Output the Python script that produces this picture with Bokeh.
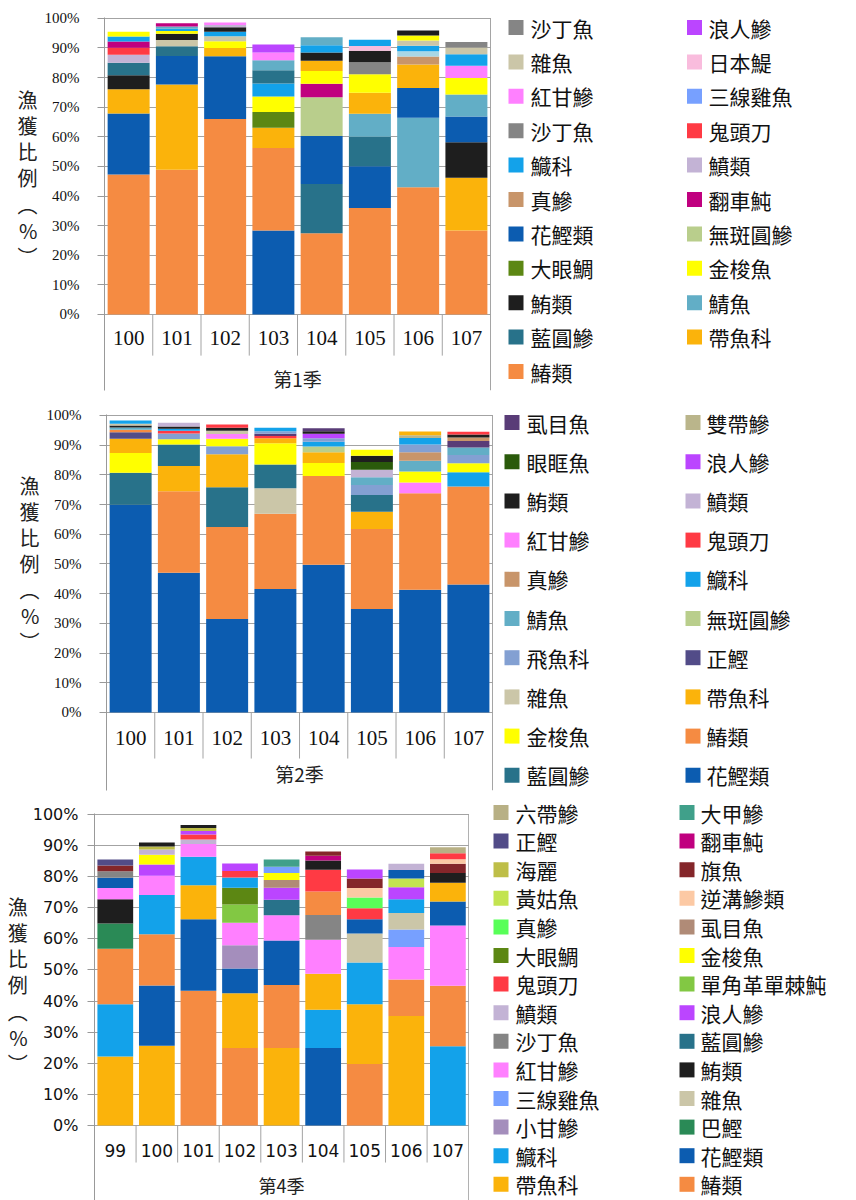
from bokeh.plotting import figure
from bokeh.layouts import column, row
from bokeh.models import Range1d, FixedTicker, PrintfTickFormatter, ColumnDataSource
from bokeh.core.properties import value
from bokeh.embed import file_html
from bokeh.resources import INLINE

CJK = "Noto Sans CJK TC"

# ---------------- data (bottom -> top for each bar) ----------------
s1_group = "第1季"
s1_years = ["100", "101", "102", "103", "104", "105", "106", "107"]
s1_100 = [("鰆類", 47.3), ("花鰹類", 20.6), ("帶魚科", 8.2), ("鮪類", 4.7), ("藍圓鰺", 4.2), ("鱝類", 2.7), ("鬼頭刀", 2.4), ("翻車魨", 2.1), ("鱵科", 1.7), ("金梭魚", 1.6)]
s1_101 = [("鰆類", 48.9), ("帶魚科", 28.8), ("花鰹類", 9.6), ("藍圓鰺", 3.3), ("雜魚", 2.1), ("鮪類", 2.1), ("金梭魚", 0.9), ("鱵科", 0.8), ("鯖魚", 0.8), ("翻車魨", 1.1)]
s1_102 = [("鰆類", 66.0), ("花鰹類", 21.2), ("帶魚科", 2.8), ("金梭魚", 2.3), ("雜魚", 1.7), ("鱵科", 1.5), ("鮪類", 1.5), ("鱝類", 0.8), ("紅甘鰺", 0.8)]
s1_103 = [("花鰹類", 28.4), ("鰆類", 27.8), ("帶魚科", 6.9), ("大眼鯛", 5.3), ("金梭魚", 5.2), ("鱵科", 4.4), ("藍圓鰺", 4.5), ("鯖魚", 3.4), ("紅甘鰺", 2.6), ("浪人鰺", 2.7)]
s1_104 = [("鰆類", 27.4), ("藍圓鰺", 16.7), ("花鰹類", 16.2), ("無斑圓鰺", 13.1), ("翻車魨", 4.5), ("金梭魚", 4.3), ("帶魚科", 3.5), ("鮪類", 2.8), ("鱵科", 2.4), ("鯖魚", 2.7)]
s1_105 = [("鰆類", 36.0), ("花鰹類", 14.1), ("藍圓鰺", 9.9), ("鯖魚", 7.8), ("帶魚科", 7.1), ("金梭魚", 6.2), ("沙丁魚", 4.1), ("鮪類", 3.9), ("日本鯷", 1.6), ("鱵科", 2.1)]
s1_106 = [("鰆類", 43.0), ("鯖魚", 23.4), ("花鰹類", 10.1), ("帶魚科", 7.9), ("真鰺", 2.7), ("其他", 1.8), ("鱵科", 1.9), ("雜魚", 1.7), ("金梭魚", 1.7), ("鮪類", 1.7)]
s1_107 = [("鰆類", 28.4), ("帶魚科", 17.8), ("鮪類", 12.0), ("花鰹類", 8.7), ("鯖魚", 7.4), ("金梭魚", 5.6), ("紅甘鰺", 4.1), ("鱵科", 3.9), ("雜魚", 2.3), ("沙丁魚", 1.8)]
s1_bars = [s1_100, s1_101, s1_102, s1_103, s1_104, s1_105, s1_106, s1_107]
s1_legend = ["沙丁魚", "浪人鰺", "雜魚", "日本鯷", "紅甘鰺", "三線雞魚", "沙丁魚", "鬼頭刀",
             "鱵科", "鱝類", "真鰺", "翻車魨", "花鰹類", "無斑圓鰺", "大眼鯛", "金梭魚",
             "鮪類", "鯖魚", "藍圓鰺", "帶魚科", "鰆類"]

s2_group = "第2季"
s2_years = ["100", "101", "102", "103", "104", "105", "106", "107"]
s2_100 = [("花鰹類", 69.9), ("藍圓鰺", 10.8), ("金梭魚", 6.6), ("帶魚科", 4.8), ("正鰹", 2.2), ("鰆類", 0.9), ("鯖魚", 0.7), ("鮪類", 0.7), ("雜魚", 0.6), ("鱵科", 1.1)]
s2_101 = [("花鰹類", 47.0), ("鰆類", 27.5), ("帶魚科", 8.5), ("藍圓鰺", 7.2), ("金梭魚", 1.8), ("飛魚科", 1.9), ("鬼頭刀", 0.9), ("鱵科", 0.7), ("鮪類", 0.8), ("鱝類", 1.2)]
s2_102 = [("花鰹類", 31.5), ("鰆類", 30.9), ("藍圓鰺", 13.4), ("帶魚科", 11.1), ("飛魚科", 2.7), ("金梭魚", 2.5), ("紅甘鰺", 1.6), ("雜魚", 1.1), ("鮪類", 1.0), ("鬼頭刀", 1.1)]
s2_103 = [("花鰹類", 41.6), ("鰆類", 25.3), ("雜魚", 8.6), ("藍圓鰺", 8.0), ("金梭魚", 7.1), ("帶魚科", 1.7), ("鬼頭刀", 0.8), ("虱目魚", 0.7), ("飛魚科", 0.9), ("鱵科", 1.1)]
s2_104 = [("花鰹類", 49.7), ("鰆類", 29.9), ("金梭魚", 4.4), ("帶魚科", 3.6), ("無斑圓鰺", 1.9), ("鱵科", 1.6), ("飛魚科", 1.2), ("浪人鰺", 1.5), ("鮪類", 0.9), ("虱目魚", 1.0)]
s2_105 = [("花鰹類", 34.8), ("鰆類", 27.0), ("帶魚科", 5.8), ("藍圓鰺", 5.6), ("飛魚科", 3.4), ("鯖魚", 2.6), ("鱝類", 2.5), ("眼眶魚", 2.6), ("鮪類", 2.1), ("金梭魚", 2.0)]
s2_106 = [("花鰹類", 41.3), ("鰆類", 32.5), ("紅甘鰺", 3.6), ("金梭魚", 3.7), ("鯖魚", 3.6), ("真鰺", 2.9), ("飛魚科", 2.6), ("鱵科", 2.2), ("雙帶鰺", 0.9), ("帶魚科", 1.3)]
s2_107 = [("花鰹類", 43.1), ("鰆類", 33.0), ("鱵科", 4.8), ("金梭魚", 3.0), ("飛魚科", 2.8), ("鯖魚", 2.5), ("虱目魚", 2.2), ("真鰺", 1.2), ("鮪類", 1.0), ("鬼頭刀", 0.9)]
s2_bars = [s2_100, s2_101, s2_102, s2_103, s2_104, s2_105, s2_106, s2_107]
s2_legend = ["虱目魚", "雙帶鰺", "眼眶魚", "浪人鰺", "鮪類", "鱝類", "紅甘鰺", "鬼頭刀",
             "真鰺", "鱵科", "鯖魚", "無斑圓鰺", "飛魚科", "正鰹", "雜魚", "帶魚科",
             "金梭魚", "鰆類", "藍圓鰺", "花鰹類"]

s3_group = "第4季"
s3_years = ["99", "100", "101", "102", "103", "104", "105", "106", "107"]
s3_99 = [("帶魚科", 22.2), ("鱵科", 16.8), ("鰆類", 17.8), ("巴鰹", 8.1), ("鮪類", 7.8), ("紅甘鰺", 3.6), ("花鰹類", 3.3), ("沙丁魚", 2.1), ("旗魚", 1.9), ("正鰹", 1.9)]
s3_100 = [("帶魚科", 25.6), ("花鰹類", 19.4), ("鰆類", 16.5), ("鱵科", 12.6), ("紅甘鰺", 6.2), ("浪人鰺", 3.6), ("金梭魚", 3.1), ("鱝類", 1.7), ("海麗", 1.0), ("鮪類", 1.3)]
s3_101 = [("鰆類", 43.3), ("花鰹類", 23.0), ("帶魚科", 10.9), ("鱵科", 9.2), ("紅甘鰺", 4.1), ("鱝類", 1.4), ("鬼頭刀", 1.6), ("浪人鰺", 1.2), ("海麗", 0.9), ("鮪類", 1.0)]
s3_102 = [("鰆類", 24.9), ("帶魚科", 17.6), ("花鰹類", 8.0), ("小甘鰺", 7.4), ("紅甘鰺", 7.3), ("單角革單棘魨", 5.8), ("大眼鯛", 5.4), ("鱵科", 3.3), ("鬼頭刀", 2.1), ("浪人鰺", 2.4)]
s3_103 = [("帶魚科", 24.9), ("鰆類", 20.3), ("花鰹類", 14.3), ("紅甘鰺", 8.1), ("藍圓鰺", 5.0), ("浪人鰺", 3.8), ("虱目魚", 2.5), ("金梭魚", 2.3), ("三線雞魚", 2.0), ("大甲鰺", 2.3)]
s3_104 = [("花鰹類", 24.9), ("鱵科", 12.3), ("帶魚科", 11.6), ("紅甘鰺", 10.9), ("沙丁魚", 8.0), ("鰆類", 7.5), ("鬼頭刀", 7.0), ("鮪類", 3.0), ("翻車魨", 1.5), ("旗魚", 1.4)]
s3_105 = [("鰆類", 19.8), ("帶魚科", 19.2), ("鱵科", 13.4), ("雜魚", 9.3), ("花鰹類", 4.6), ("鬼頭刀", 3.5), ("真鰺", 3.5), ("逆溝鰺類", 3.0), ("旗魚", 3.1), ("浪人鰺", 2.9)]
s3_106 = [("帶魚科", 35.2), ("鰆類", 11.7), ("紅甘鰺", 10.5), ("三線雞魚", 5.6), ("雜魚", 5.3), ("鱵科", 4.4), ("浪人鰺", 3.9), ("黃姑魚", 2.8), ("花鰹類", 2.7), ("鱝類", 2.0)]
s3_107 = [("鱵科", 25.5), ("鰆類", 19.4), ("紅甘鰺", 19.4), ("花鰹類", 7.7), ("帶魚科", 6.0), ("鮪類", 3.2), ("旗魚", 2.9), ("逆溝鰺類", 1.5), ("鬼頭刀", 1.9), ("六帶鰺", 1.9)]
s3_bars = [s3_99, s3_100, s3_101, s3_102, s3_103, s3_104, s3_105, s3_106, s3_107]
s3_legend = ["六帶鰺", "大甲鰺", "正鰹", "翻車魨", "海麗", "旗魚", "黃姑魚", "逆溝鰺類",
             "真鰺", "虱目魚", "大眼鯛", "金梭魚", "鬼頭刀", "單角革單棘魨", "鱝類", "浪人鰺",
             "沙丁魚", "藍圓鰺", "紅甘鰺", "鮪類", "三線雞魚", "雜魚", "小甘鰺", "巴鰹",
             "鱵科", "花鰹類", "帶魚科", "鰆類"]

# ---------------- colours ----------------
base_colors = {
    "鰆類": "#F58B42", "花鰹類": "#0C5CB0", "帶魚科": "#FBB30B", "鮪類": "#1E1E1E",
    "藍圓鰺": "#28728A", "鯖魚": "#62AEC6", "金梭魚": "#FFFF00", "大眼鯛": "#5C8713",
    "無斑圓鰺": "#B9CE8C", "翻車魨": "#C0007F", "鱝類": "#C3B3D5", "鱵科": "#13A2EA",
    "鬼頭刀": "#FF3A44", "沙丁魚": "#858585", "三線雞魚": "#77A0FF", "紅甘鰺": "#FF80FF",
    "日本鯷": "#F9BCDD", "雜魚": "#CBC6A8", "浪人鰺": "#BB45FF", "真鰺": "#C8956A",
    "虱目魚": "#593C77", "眼眶魚": "#2A5A0B", "雙帶鰺": "#BAB58B", "飛魚科": "#83A0D2",
    "正鰹": "#524C88", "六帶鰺": "#B8B085", "大甲鰺": "#40A08A", "海麗": "#BEBE48",
    "旗魚": "#84262A", "黃姑魚": "#C3E450", "逆溝鰺類": "#FCC9A4", "單角革單棘魨": "#82C843",
    "小甘鰺": "#A48EBC", "巴鰹": "#2A8A56", "其他": "#A8D7E5",
}
s1_colors = dict(base_colors)
s2_colors = dict(base_colors)
s3_colors = dict(base_colors, **{"真鰺": "#58FF58", "虱目魚": "#B08B77"})


def chart(years, bars, colors, title_pad, group, W, H, left, top, bottom, ystart, yend,
          sep_y, lab_y, grp_y, tick_font, tick_size, tick_standoff, cat_font, cat_size,
          title_standoff, bar_w, grp_size):
    n = len(years)
    p = figure(width=W, height=H, x_range=Range1d(0, n + 0.02), y_range=Range1d(ystart, yend),
               output_backend="svg", toolbar_location=None, x_axis_location=None, title=None,
               min_border_left=left, min_border_right=0, min_border_top=top,
               min_border_bottom=bottom, background_fill_color="white",
               border_fill_color="white", outline_line_color=None)
    ticks = list(range(0, 101, 10))
    p.xgrid.visible = False
    p.ygrid.ticker = FixedTicker(ticks=ticks)
    p.ygrid.grid_line_color = "#A3A3A3"
    ax = p.yaxis[0]
    ax.bounds = (ystart, 100.3)
    ax.ticker = FixedTicker(ticks=ticks)
    ax.formatter = PrintfTickFormatter(format="%d%%")
    ax.major_tick_out = 7
    ax.major_tick_in = 0
    ax.minor_tick_line_color = None
    ax.axis_line_color = "#999999"
    ax.major_tick_line_color = "#999999"
    ax.major_label_text_font = tick_font
    ax.major_label_text_font_size = tick_size
    ax.major_label_text_color = "#111111"
    ax.major_label_standoff = tick_standoff
    ax.axis_label = "\n".join(list("漁獲比例") + ["︵", "%", "︶"] + ["\u3000"] * title_pad)
    ax.axis_label_orientation = "horizontal"
    ax.axis_label_text_font = CJK
    ax.axis_label_text_font_size = "20px"
    ax.axis_label_text_font_style = "normal"
    ax.axis_label_text_color = "#222222"
    ax.axis_label_text_line_height = 0.9
    ax.axis_label_standoff = title_standoff

    xs, bots, tops, cols = [], [], [], []
    for i, segs in enumerate(bars):
        acc = 0.0
        for name, v in segs:
            xs.append(i + 0.5)
            bots.append(acc)
            tops.append(acc + v)
            cols.append(colors[name])
            acc += v
    src = ColumnDataSource(dict(x=xs, bottom=bots, top=tops, color=cols))
    p.vbar(x="x", width=bar_w, bottom="bottom", top="top", fill_color="color",
           line_color=None, source=src)

    bounds = list(range(1, n))
    p.segment(x0=bounds, y0=[0] * len(bounds), x1=bounds, y1=[sep_y] * len(bounds),
              line_color="#A3A3A3", line_width=1)
    # right-hand frame line of the chart/category table
    p.segment(x0=[n], y0=[ystart], x1=[n], y1=[100], line_color="#A3A3A3", line_width=1)

    p.text(x=[i + 0.5 for i in range(n)], y=[lab_y] * n, text=years, text_align="center",
           text_baseline="middle", text_font=value(cat_font), text_font_size=cat_size,
           text_color="#111111")
    p.text(x=[n / 2], y=[grp_y], text=[group], text_align="center", text_baseline="middle",
           text_font=value(CJK), text_font_size=grp_size, text_color="#222222")
    return p


def legend(names, colors, W, H, top, bottom, gx, tx, y0, pitch):
    # y data units = pixels from the top of the figure (frame aligned with the chart frame)
    p = figure(width=W, height=H, x_range=Range1d(0, W), y_range=Range1d(H - bottom, top),
               title=None, output_backend="svg", toolbar_location=None, x_axis_location=None,
               y_axis_location=None, min_border_left=0, min_border_right=0,
               min_border_top=top, min_border_bottom=bottom, outline_line_color=None,
               background_fill_color="white", border_fill_color="white")
    p.grid.visible = False
    gxs = [gx[k % 2] for k in range(len(names))]
    txs = [tx[k % 2] for k in range(len(names))]
    ys = [y0 + pitch * (k // 2) for k in range(len(names))]
    p.rect(x=gxs, y=ys, width=15, height=15, width_units="screen", height_units="screen",
           fill_color=[colors[nm] for nm in names], line_color=None)
    p.text(x=txs, y=ys, text=names, text_align="left", text_baseline="middle",
           text_font=value(CJK), text_font_size="21px", text_color="#111111")
    return p


c1 = chart(s1_years, s1_bars, s1_colors, 2, s1_group, W=491, H=395, left=104, top=17, bottom=5,
           ystart=-25.68, yend=100.3, sep_y=-13.9, lab_y=-7.8, grp_y=-21.6,
           tick_font="Liberation Serif", tick_size="15px", tick_standoff=18,
           cat_font="Liberation Serif", cat_size="21px", title_standoff=4, bar_w=0.87,
           grp_size="19px")
l1 = legend(s1_legend, s1_colors, W=365, H=395, top=17, bottom=5, gx=(24.5, 203), tx=(39, 217),
            y0=27, pitch=34.4)

c2 = chart(s2_years, s2_bars, s2_colors, 3, s2_group, W=493, H=400, left=106, top=19, bottom=5,
           ystart=-26.26, yend=100.3, sep_y=-15.5, lab_y=-8.75, grp_y=-20.5,
           tick_font="Liberation Serif", tick_size="15px", tick_standoff=18,
           cat_font="Liberation Serif", cat_size="21px", title_standoff=4, bar_w=0.87,
           grp_size="19px")
l2 = legend(s2_legend, s2_colors, W=363, H=400, top=19, bottom=5, gx=(18.5, 199.5), tx=(33, 213),
            y0=27, pitch=39.2)

c3 = chart(s3_years, s3_bars, s3_colors, 1, s3_group, W=469, H=405, left=94, top=0, bottom=0,
           ystart=-24.1, yend=106.07, sep_y=-11.9, lab_y=-8.0, grp_y=-19.2,
           tick_font="DejaVu Sans", tick_size="16px", tick_standoff=9,
           cat_font="DejaVu Sans", cat_size="17px", title_standoff=2, bar_w=0.86,
           grp_size="18px")
l3 = legend(s3_legend, s3_colors, W=387, H=405, top=0, bottom=0, gx=(31.5, 217.5), tx=(46, 231),
            y0=17, pitch=28.6)

layout = column(row(c1, l1), row(c2, l2), row(c3, l3))
open("out.html", "w").write(file_html(layout, INLINE))
